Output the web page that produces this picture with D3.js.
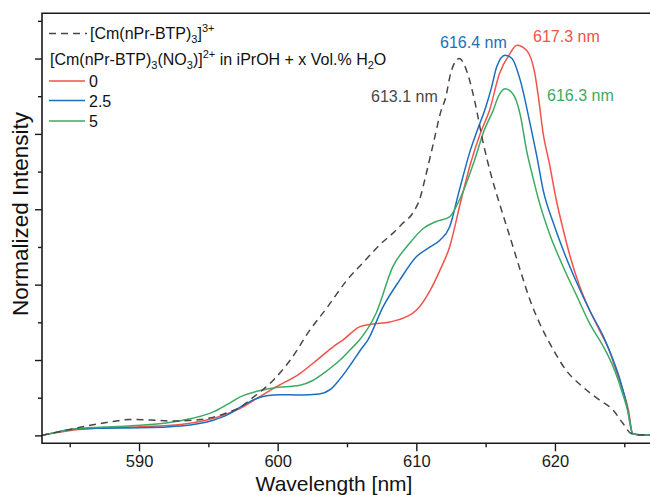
<!DOCTYPE html>
<html>
<head>
<meta charset="utf-8">
<script src="https://cdn.jsdelivr.net/npm/d3@7"></script>
<style>
  body { margin: 0; background: #fff; }
  text { font-family: "Liberation Sans", Arial, sans-serif; }
</style>
</head>
<body>
<svg id="chart" width="650" height="495"></svg>
<script>
// Data
// -------------------------

// [Cm(nPr-BTP)3]3+ reference
var refWl = [583.0, 584.0, 585.2, 586.5, 588.0, 589.3, 590.8, 592.4, 594.4, 596.2, 597.3, 598.2, 599.7, 601.4, 602.0, 603.6, 605.0, 606.2, 607.6, 608.3, 609.0, 609.8, 610.3, 610.6, 611.2, 611.8, 612.1, 612.5, 613.1, 613.7, 614.2, 614.8, 615.4, 616.0, 616.75, 617.5, 618.2, 618.9, 619.9, 620.8, 622.0, 623.2, 624.2, 624.9, 625.5, 626.0, 627.0];
var refI  = [0.000, 0.008, 0.017, 0.027, 0.036, 0.042, 0.041, 0.038, 0.042, 0.058, 0.075, 0.100, 0.147, 0.226, 0.262, 0.341, 0.412, 0.460, 0.514, 0.536, 0.562, 0.593, 0.633, 0.677, 0.770, 0.863, 0.894, 0.964, 1.000, 0.960, 0.889, 0.780, 0.690, 0.615, 0.527, 0.438, 0.359, 0.297, 0.226, 0.173, 0.129, 0.094, 0.067, 0.032, 0.005, 0.002, 0.001];

// [Cm(nPr-BTP)3(NO3)]2+, 0 Vol.% H2O
var w0Wl = [583.0, 584.0, 585.3, 587.0, 590.1, 593.0, 594.9, 596.2, 597.3, 598.5, 599.7, 601.6, 603.0, 604.0, 604.7, 605.9, 606.7, 608.1, 609.3, 610.0, 611.0, 611.7, 612.4, 613.2, 613.9, 614.6, 615.3, 616.0, 616.75, 617.25, 617.95, 618.55, 618.8, 619.15, 619.6, 620.1, 620.6, 621.1, 621.8, 622.5, 623.2, 624.0, 624.4, 624.9, 625.3, 625.6, 626.0, 627.0];
var w0I  = [0.000, 0.007, 0.014, 0.019, 0.023, 0.029, 0.041, 0.055, 0.072, 0.098, 0.125, 0.164, 0.205, 0.235, 0.253, 0.288, 0.295, 0.301, 0.315, 0.332, 0.385, 0.438, 0.500, 0.620, 0.720, 0.800, 0.865, 0.960, 1.013, 1.035, 1.022, 0.960, 0.900, 0.801, 0.721, 0.624, 0.545, 0.474, 0.394, 0.332, 0.280, 0.217, 0.173, 0.120, 0.067, 0.005, 0.002, 0.001];

// 2.5 Vol.% H2O
var w25Wl = [583.0, 584.0, 585.3, 587.5, 590.1, 593.0, 595.4, 596.4, 597.3, 598.5, 599.2, 600.2, 601.6, 603.0, 603.8, 604.5, 605.3, 606.0, 606.5, 607.6, 608.8, 610.0, 611.0, 611.7, 612.4, 613.1, 613.9, 614.4, 615.0, 615.4, 615.8, 616.4, 616.9, 617.5, 618.2, 618.7, 619.15, 619.9, 620.6, 621.6, 622.5, 623.5, 624.2, 624.7, 625.2, 625.6, 626.0, 627.0];
var w25I  = [0.000, 0.008, 0.017, 0.019, 0.020, 0.025, 0.041, 0.055, 0.075, 0.098, 0.105, 0.108, 0.107, 0.110, 0.122, 0.150, 0.190, 0.228, 0.253, 0.341, 0.412, 0.474, 0.500, 0.518, 0.553, 0.650, 0.757, 0.810, 0.870, 0.920, 0.978, 1.009, 1.000, 0.942, 0.828, 0.739, 0.651, 0.562, 0.491, 0.403, 0.332, 0.262, 0.200, 0.147, 0.076, 0.005, 0.002, 0.001];

// 5 Vol.% H2O
var w5Wl = [583.0, 584.0, 585.3, 587.5, 590.1, 593.0, 595.4, 596.4, 597.3, 598.5, 599.7, 601.6, 602.5, 603.5, 604.5, 605.3, 605.9, 607.1, 608.3, 609.5, 610.5, 611.4, 612.4, 613.1, 614.2, 614.9, 615.55, 615.9, 616.4, 616.7, 617.2, 617.5, 617.95, 618.4, 618.9, 619.6, 620.6, 621.6, 622.5, 623.5, 624.2, 624.8, 625.3, 625.6, 626.0, 627.0];
var w5I  = [0.000, 0.008, 0.017, 0.022, 0.027, 0.039, 0.063, 0.083, 0.102, 0.117, 0.126, 0.133, 0.145, 0.170, 0.200, 0.230, 0.253, 0.324, 0.447, 0.509, 0.549, 0.567, 0.580, 0.624, 0.730, 0.810, 0.863, 0.898, 0.920, 0.916, 0.889, 0.850, 0.757, 0.686, 0.615, 0.536, 0.447, 0.368, 0.297, 0.235, 0.182, 0.120, 0.058, 0.005, 0.002, 0.001];

var xMajor = [590, 600, 610, 620];
var xMinor = [585, 595, 605, 615, 625];
var yMajor = [0, 0.2, 0.4, 0.6, 0.8, 1.0];
var yMinor = [0.1, 0.3, 0.5, 0.7, 0.9, 1.1];

var legendLabels = ["0", "2.5", "5"];
var peakLabels = ["617.3 nm", "616.4 nm", "616.3 nm", "613.1 nm"];

var red = "#f2524a", blue = "#1b6fc0", green = "#3daa63", grey = "#474747";

// Chart
// -----

var svg = d3.select("#chart");
var plotLeft = 42, plotTop = 13.3, plotBottom = 443.3;

var x = d3.scaleLinear().domain([583, 627]).range([plotLeft, 652]);
var y = d3.scaleLinear().domain([-0.021, 1.12]).range([plotBottom, plotTop]);

svg.append("defs").append("clipPath").attr("id", "clip")
  .append("rect").attr("x", plotLeft).attr("y", plotTop)
  .attr("width", 650 - plotLeft).attr("height", plotBottom - plotTop);

var line = d3.line()
    .x(function(d) { return x(d[0]); })
    .y(function(d) { return y(d[1]); })
    .curve(d3.curveMonotoneX);

function series(wl, vals) { return wl.map(function(w, i) { return [w, vals[i]]; }); }

var plot = svg.append("g").attr("clip-path", "url(#clip)");

plot.append("path").datum(series(w0Wl, w0I))
    .attr("d", line).attr("fill", "none").attr("stroke", red).attr("stroke-width", 1.5);
plot.append("path").datum(series(w25Wl, w25I))
    .attr("d", line).attr("fill", "none").attr("stroke", blue).attr("stroke-width", 1.5);
plot.append("path").datum(series(w5Wl, w5I))
    .attr("d", line).attr("fill", "none").attr("stroke", green).attr("stroke-width", 1.5);
plot.append("path").datum(series(refWl, refI))
    .attr("d", line).attr("fill", "none").attr("stroke", grey).attr("stroke-width", 1.5)
    .attr("stroke-dasharray", "7,5");

// Frame (right side runs off the canvas)
svg.append("path")
    .attr("d", "M660," + plotTop + "H" + plotLeft + "V" + plotBottom + "H660")
    .attr("fill", "none").attr("stroke", "#1a1a1a").attr("stroke-width", 1.6);

// Axes
var axisColor = "#1a1a1a";

var gx = svg.append("g").attr("transform", "translate(0," + plotBottom + ")");
gx.call(d3.axisBottom(x).tickValues(xMajor).tickSize(8).tickPadding(4).tickFormat(d3.format("d")));
gx.append("g").call(d3.axisBottom(x).tickValues(xMinor).tickSize(4).tickFormat(""));
gx.selectAll(".domain").remove();
gx.selectAll("line").attr("stroke", axisColor).attr("stroke-width", 1.4);
gx.selectAll("text").attr("fill", axisColor).style("font-size", "16.5px")
    .style("font-family", "'Liberation Sans', Arial, sans-serif");

var gy = svg.append("g").attr("transform", "translate(" + plotLeft + ",0)");
gy.call(d3.axisLeft(y).tickValues(yMajor).tickSize(7).tickFormat(""));
gy.append("g").call(d3.axisLeft(y).tickValues(yMinor).tickSize(4).tickFormat(""));
gy.selectAll(".domain").remove();
gy.selectAll("line").attr("stroke", axisColor).attr("stroke-width", 1.4);

// Axis titles
svg.append("text")
    .attr("x", 334).attr("y", 490.5)
    .attr("text-anchor", "middle")
    .style("font-size", "21px").attr("fill", "#111")
    .text("Wavelength [nm]");

svg.append("text")
    .attr("transform", "translate(28,214) rotate(-90)")
    .attr("text-anchor", "middle")
    .style("font-size", "22.5px").attr("fill", "#111")
    .text("Normalized Intensity");

// Legend
var lg = svg.append("g").style("font-size", "16px").attr("fill", "#111");

lg.append("line").attr("x1", 49).attr("x2", 87).attr("y1", 33.5).attr("y2", 33.5)
    .attr("stroke", grey).attr("stroke-width", 1.5).attr("stroke-dasharray", "7,5");
var t1 = lg.append("text").attr("x", 90).attr("y", 39.3);
t1.append("tspan").text("[Cm(nPr-BTP)");
t1.append("tspan").attr("dy", 4).style("font-size", "11px").text("3");
t1.append("tspan").attr("dy", -4).text("]");
t1.append("tspan").attr("dy", -7).style("font-size", "11px").text("3+");

var t2 = lg.append("text").attr("x", 50).attr("y", 65);
t2.append("tspan").text("[Cm(nPr-BTP)");
t2.append("tspan").attr("dy", 4).style("font-size", "11px").text("3");
t2.append("tspan").attr("dy", -4).text("(NO");
t2.append("tspan").attr("dy", 4).style("font-size", "11px").text("3");
t2.append("tspan").attr("dy", -4).text(")]");
t2.append("tspan").attr("dy", -7).style("font-size", "11px").text("2+");
t2.append("tspan").attr("dy", 7).text(" in iPrOH + x Vol.% H");
t2.append("tspan").attr("dy", 4).style("font-size", "11px").text("2");
t2.append("tspan").attr("dy", -4).text("O");

var legendColors = [red, blue, green];
var legendY = [81, 100.5, 121];
legendLabels.forEach(function(lab, i) {
  lg.append("line").attr("x1", 49).attr("x2", 85).attr("y1", legendY[i]).attr("y2", legendY[i])
      .attr("stroke", legendColors[i]).attr("stroke-width", 1.5);
  lg.append("text").attr("x", 89).attr("y", legendY[i] + 6.3).text(lab);
});

// Peak labels
var peakColors = [red, blue, green, grey];
var peakPos = [[533, 42.4], [440, 48.4], [547, 100.7], [371, 102.4]];
peakLabels.forEach(function(lab, i) {
  svg.append("text")
      .attr("x", peakPos[i][0]).attr("y", peakPos[i][1])
      .style("font-size", "16px").attr("fill", peakColors[i])
      .text(lab);
});
</script>
</body>
</html>
